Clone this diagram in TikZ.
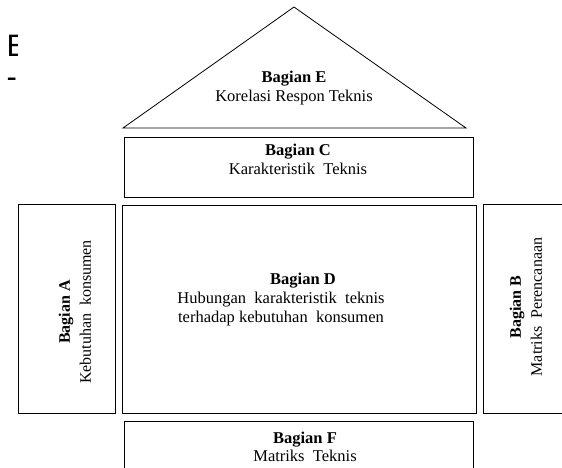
\documentclass[tikz,border=0pt]{standalone}
\usepackage{fontspec}
\setmainfont{Liberation Serif}
\newfontfamily\fragfont{Liberation Sans}
\usepackage{tikz}
\usetikzlibrary{positioning,calc}
\tikzset{
  PB/.style={rectangle,draw,line width=0.8pt,inner sep=0pt},
  roof/.style={draw,line width=0.8pt,line join=miter},
  txt/.style={align=center,inner sep=0pt,
              font=\fontsize{16.5}{18.5}\selectfont},
  vtxt/.style={txt,rotate=90,font=\fontsize{16}{21}\selectfont}
}

\begin{document}
\begin{tikzpicture}[x=1pt,y=-1pt]
  \clip (0,0) rectangle (562,468);

  % Cut-off heading at the left
  \begin{scope}
    \clip (0,25) rectangle (17.5,95);
    \node[anchor=base west,inner sep=0pt,font=\fontsize{31}{31}\fragfont] (fragE) at (6.5,57) {E};
    \node[anchor=base west,inner sep=0pt,font=\fontsize{31}{31}\fragfont] (fragDash) at (6.5,88) {-};
  \end{scope}

  % House body
  \node[PB,minimum width=354pt,minimum height=208pt] (D) at (299,309) {};
  \node[PB,minimum width=349pt,minimum height=60pt,above=7pt of D] (C) {};
  \node[PB,minimum width=97pt,minimum height=209pt,left=6pt of D] (A) {};
  \node[PB,minimum width=97pt,minimum height=209pt,right=7pt of D] (B) {};
  \node[PB,minimum width=349pt,minimum height=60pt,below=8pt of D] (F) {};

  % Roof
  \coordinate (Etop) at (294,7);
  \coordinate (Eleft) at (123,128);
  \coordinate (Eright) at (466,128);
  \draw[roof] (Eleft) -- (Etop) -- (Eright) -- cycle;

  % Labels
  \node[txt] (Elab) at (294,88) {\textbf{Bagian E}\\Korelasi Respon Teknis};
  \node[txt] (Clab) at (298,159.5) {\textbf{Bagian C}\\Karakteristik\ \ Teknis};
  \node[txt,anchor=base] (Dtitle) at (303,284) {\textbf{Bagian D}};
  \node[txt] (Dlab) at (281,309) {Hubungan\ \ karakteristik\ \ teknis\\terhadap\ kebutuhan\ \ konsumen};
  \node[vtxt] (Alab) at (75,312) {\textbf{Bagian A}\\Kebutuhan\ \ konsumen};
  \node[vtxt] (Blab) at (526,307) {\textbf{Bagian B}\\Matriks\ \ Perencanaan};
  \node[txt] (Flab) at (305,447) {\textbf{Bagian F}\\Matriks\ \ Teknis};
\end{tikzpicture}
\end{document}
